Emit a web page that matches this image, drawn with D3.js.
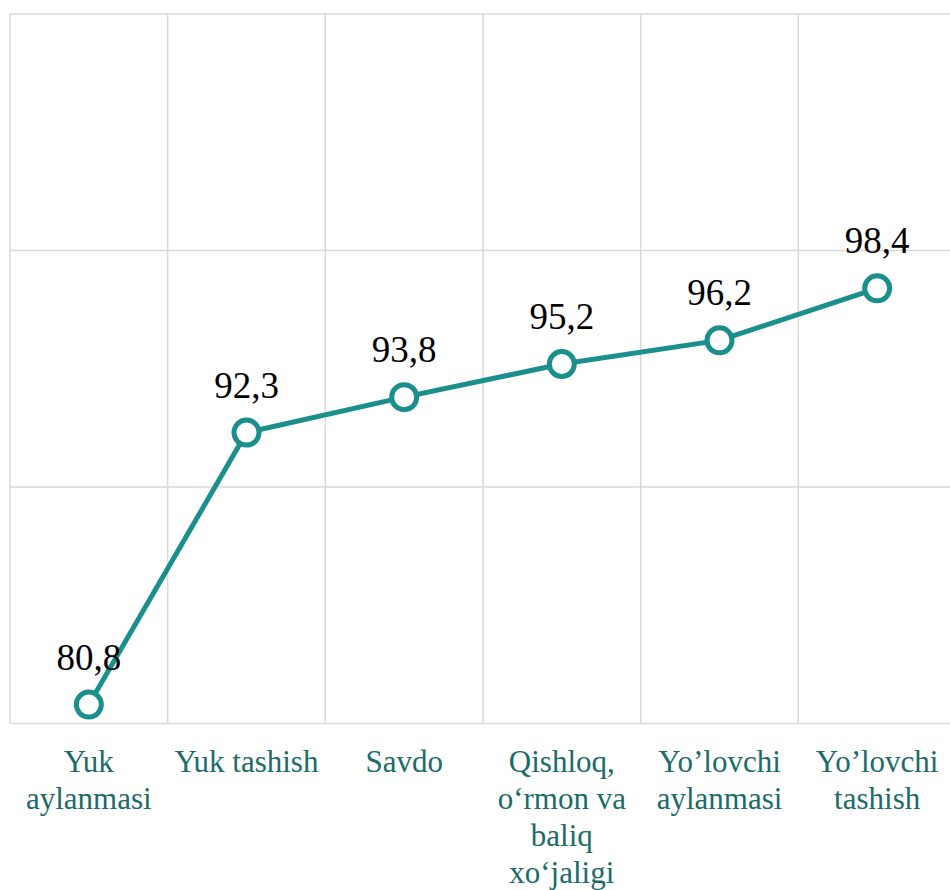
<!DOCTYPE html>
<html>
<head>
<meta charset="utf-8">
<script src="https://cdn.jsdelivr.net/npm/d3@7"></script>
</head>
<body style="margin:0">
<div id="chart"></div>
<script>
// data
var categories = ["Yuk aylanmasi", "Yuk tashish", "Savdo", "Qishloq, o‘rmon va baliq xo‘jaligi", "Yo’lovchi aylanmasi", "Yo’lovchi tashish"];
var catLines = [["Yuk", "aylanmasi"], ["Yuk tashish"], ["Savdo"], ["Qishloq,", "o‘rmon va", "baliq", "xo‘jaligi"], ["Yo’lovchi", "aylanmasi"], ["Yo’lovchi", "tashish"]];
var values = [80.8, 92.3, 93.8, 95.2, 96.2, 98.4];
var labels = ["80,8", "92,3", "93,8", "95,2", "96,2", "98,4"];
var yTicks = [80, 90, 100, 110];

var W = 950, H = 890;
var margin = {top: 14, left: 10},
    width = 946,
    height = 709.5;

var svg = d3.select("#chart")
  .append("svg")
    .attr("width", W)
    .attr("height", H)
    .style("display", "block")
  .append("g")
    .attr("transform", "translate(" + margin.left + "," + margin.top + ")");

var x = d3.scaleBand()
  .domain(categories)
  .range([0, width]);

var y = d3.scaleLinear()
  .domain([80, 110])
  .range([height, 0]);

// horizontal gridlines
svg.selectAll(".hgrid")
  .data(yTicks)
  .enter()
  .append("line")
    .attr("x1", 0)
    .attr("x2", width)
    .attr("y1", function(d) { return y(d); })
    .attr("y2", function(d) { return y(d); })
    .attr("stroke", "#d9d9d9")
    .attr("stroke-width", 1.5);

// vertical gridlines at category boundaries
svg.selectAll(".vgrid")
  .data(categories)
  .enter()
  .append("line")
    .attr("x1", function(d) { return x(d); })
    .attr("x2", function(d) { return x(d); })
    .attr("y1", 0)
    .attr("y2", height)
    .attr("stroke", "#d9d9d9")
    .attr("stroke-width", 1.5);

var cx = function(d, i) { return x(categories[i]) + x.bandwidth() / 2; };

// line
var line = d3.line()
  .x(function(d, i) { return cx(d, i); })
  .y(function(d) { return y(d); });

svg.append("path")
  .datum(values)
  .attr("d", line)
  .attr("fill", "none")
  .attr("stroke", "#1a8f8b")
  .attr("stroke-width", 5)
  .attr("stroke-linejoin", "round");

// markers
svg.selectAll(".dot")
  .data(values)
  .enter()
  .append("circle")
    .attr("cx", cx)
    .attr("cy", function(d) { return y(d); })
    .attr("r", 12.5)
    .attr("fill", "#fff")
    .attr("stroke", "#1a8f8b")
    .attr("stroke-width", 5);

// value labels
svg.selectAll(".val")
  .data(labels)
  .enter()
  .append("text")
    .attr("x", cx)
    .attr("y", function(d, i) { return y(values[i]) - 35; })
    .attr("text-anchor", "middle")
    .style("font-family", function(d) { return "'Liberation Serif'"; })
    .style("font-size", "37px")
    .text(function(d) { return d; });

// category labels
var cat = svg.selectAll(".cat")
  .data(catLines)
  .enter()
  .append("text")
    .attr("text-anchor", "middle")
    .attr("fill", "#1b6b67")
    .style("font-family", function(d) { return "'Liberation Serif'"; })
    .style("font-size", "31px");

cat.selectAll("tspan")
  .data(function(d, i) { return d.map(function(t) { return {t: t, i: i}; }); })
  .enter()
  .append("tspan")
    .attr("x", function(d) { return x(categories[d.i]) + x.bandwidth() / 2; })
    .attr("y", function(d, j) { return height + 48 + j * 37; })
    .text(function(d) { return d.t; });
</script>
</body>
</html>
